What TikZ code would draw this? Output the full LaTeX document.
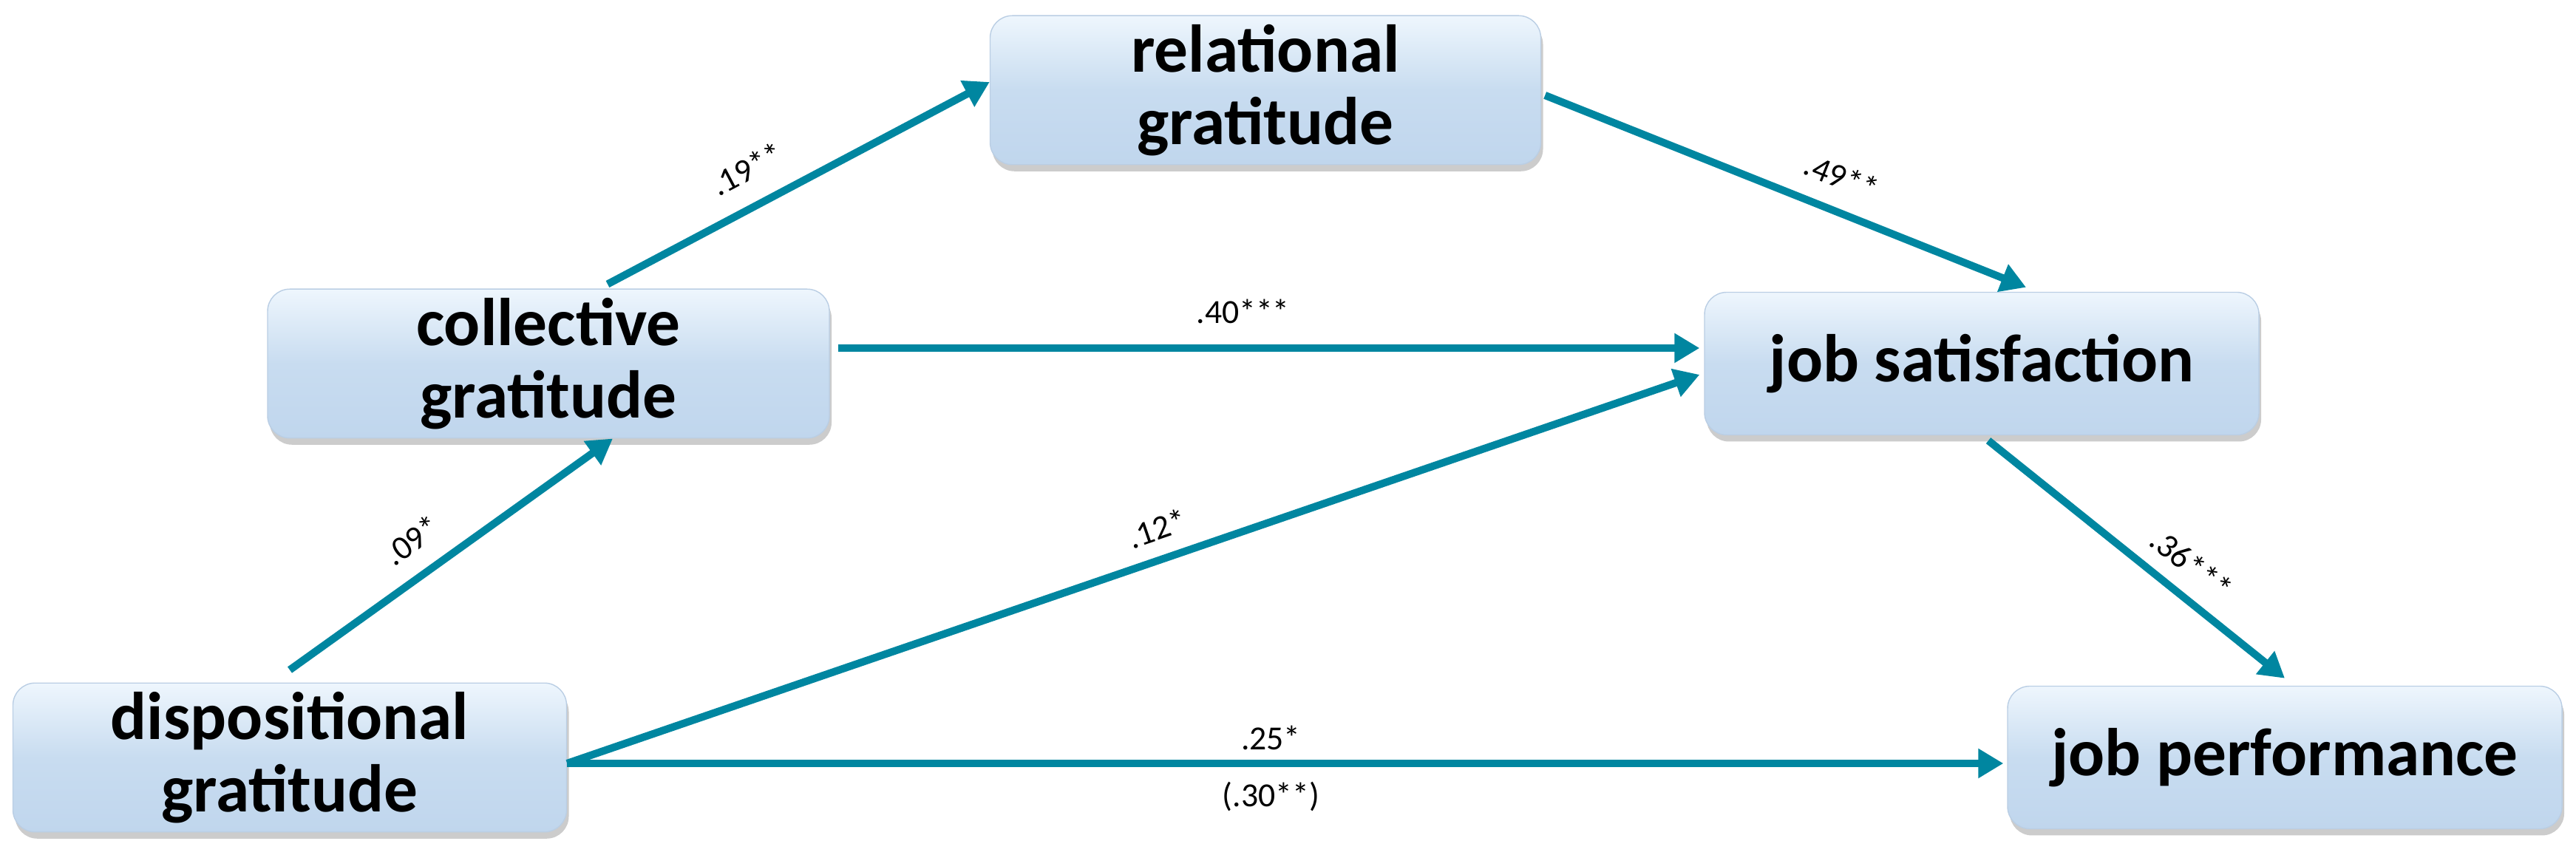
\documentclass[tikz,border=0pt]{standalone}
\usepackage{fontspec}
\setmainfont{Carlito}
\usetikzlibrary{arrows.meta,shadows}
\definecolor{pathcol}{RGB}{0,134,160}
\definecolor{boxtop}{RGB}{238,246,253}
\definecolor{boxmid}{RGB}{200,220,240}
\definecolor{boxbot}{RGB}{192,214,237}
\definecolor{boxline}{RGB}{186,206,228}
\tikzset{
  var/.style={rounded corners=0.3cm, minimum width=7.5cm, minimum height=1.93cm,
    align=center, font=\fontsize{26}{28}\selectfont\bfseries,
    draw=boxline, line width=0.4pt,
    top color=boxtop, bottom color=boxbot, middle color=boxmid,
    drop shadow={opacity=0.4, shadow xshift=0.03cm, shadow yshift=-0.09cm}},
  coef/.style={font=\fontsize{13}{15}\selectfont, inner sep=0pt, sloped},
  link/.style={draw=pathcol, line width=2.9pt, -{Triangle[length=0.34cm,width=0.38cm]}}
}
\begin{document}
\begin{tikzpicture}
  \useasboundingbox (0,0) rectangle (34.85,11.38);
  \node[var, minimum width=7.49cm] (disp) at (3.92,1.13) {dispositional\\gratitude};
  \node[var, minimum width=7.6cm] (coll) at (7.42,6.46) {collective\\gratitude};
  \node[var, minimum width=7.45cm] (rel) at (17.12,10.16) {relational\\gratitude};
  \node[var] (sat) at (26.81,6.46) {job satisfaction};
  \node[var] (perf) at (30.91,1.13) {job performance};
  \begin{scope}[link]
    \draw ([yshift=0.17cm]disp.north) to
      node[coef, above=0.25cm, pos=0.44] (c09) {.09*} ([xshift=0.87cm]coll.south);
    \draw ([xshift=0.8cm,yshift=0.06cm]coll.north) to
      node[coef, above=0.28cm, pos=0.41] (c19) {.19**} ([yshift=0.11cm]rel.west);
    \draw ([xshift=0.05cm,yshift=-0.07cm]rel.east) to
      node[coef, above=0.25cm, pos=0.59] (c49) {.49**} ([xshift=0.6cm,yshift=0.06cm]sat.north);
    \draw ([xshift=0.11cm,yshift=0.21cm]coll.east) to
      node[coef, above=0.28cm, pos=0.47] (c40) {.40***} ([xshift=-0.06cm,yshift=0.21cm]sat.west);
    \draw ([yshift=-0.08cm]disp.east) to
      node[coef, above=0.2cm, pos=0.53] (c12) {.12*} ([xshift=-0.06cm,yshift=-0.15cm]sat.west);
    \draw ([yshift=-0.08cm]disp.east) to
      node[coef, above=0.13cm, pos=0.49] (c25) {.25*}
      node[coef, below=0.2cm, pos=0.49] (c30) {(.30**)} ([xshift=-0.05cm,yshift=-0.08cm]perf.west);
    \draw ([xshift=0.09cm,yshift=-0.07cm]sat.south) to
      node[coef, above=0.2cm, pos=0.62] (c36) {.36***} ([yshift=0.1cm]perf.north);
  \end{scope}
\end{tikzpicture}
\end{document}
